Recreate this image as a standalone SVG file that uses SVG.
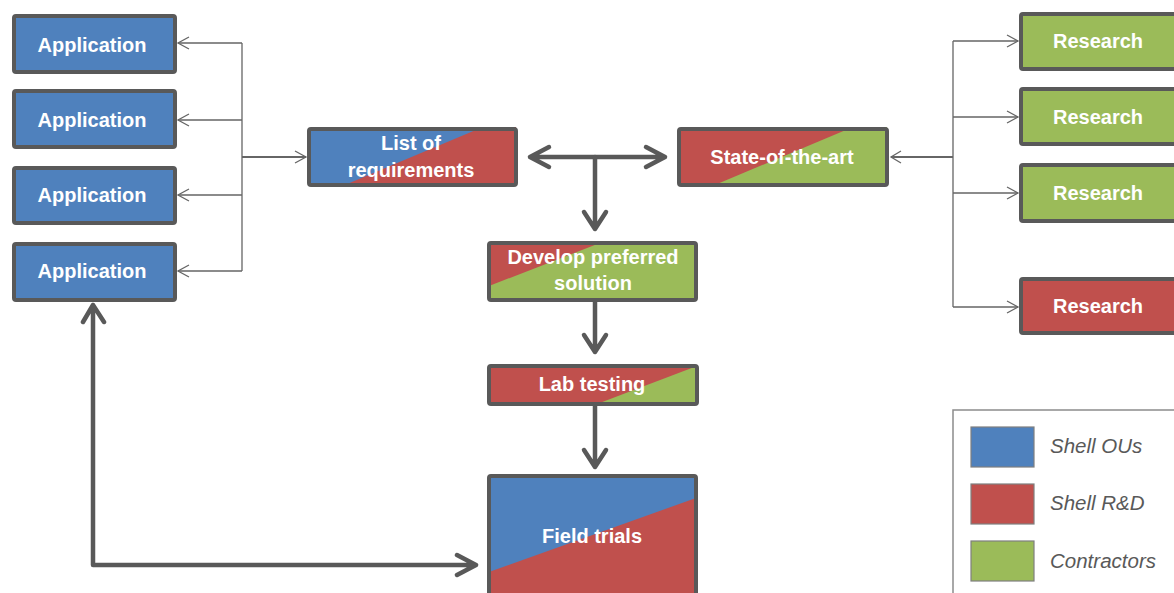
<svg xmlns="http://www.w3.org/2000/svg" width="1174" height="593" viewBox="0 0 1174 593">
<style>
.box{fill:none;stroke:#595959;stroke-width:4;}
.blue{fill:#4F81BD;}
.red{fill:#C0504D;}
.green{fill:#9BBB59;}
.lbl{font-family:"Liberation Sans",Arial,sans-serif;font-weight:bold;font-size:20px;fill:#FFFFFF;text-anchor:middle;}
.thin{fill:none;stroke:#666666;stroke-width:1.3;}
.trunk{fill:none;stroke:#666666;stroke-width:1.8;}
.thick{fill:none;stroke:#595959;stroke-width:4.5;stroke-linecap:round;stroke-linejoin:round;}
.leg{font-family:"Liberation Sans",Arial,sans-serif;font-style:italic;font-size:20.5px;fill:#595959;}
.sw{stroke:#7F7F7F;stroke-width:1.2;}
</style>
<rect width="1174" height="593" fill="#FFFFFF"/>

<g id="connectors">
  <!-- application bracket -->
  <path class="thin" d="M242,43 V271 M242,43 H178 M242,120 H178 M242,195 H178 M242,271 H178"/>
  <path class="thin" d="M189,37 L178,43 L189,49 M189,114 L178,120 L189,126 M189,189 L178,195 L189,201 M189,265 L178,271 L189,277"/>
  <path class="trunk" d="M242,157 H306"/>
  <path class="thin" d="M295,151 L306,157 L295,163"/>
  <!-- research bracket -->
  <path class="thin" d="M953,41 V307 M953,41 H1018 M953,117 H1018 M953,193 H1018 M953,307 H1018"/>
  <path class="thin" d="M1007,35 L1018,41 L1007,47 M1007,111 L1018,117 L1007,123 M1007,187 L1018,193 L1007,199 M1007,301 L1018,307 L1007,313"/>
  <path class="trunk" d="M953,157 H891"/>
  <path class="thin" d="M901,151 L891,157 L901,163"/>
  <!-- double arrow & down -->
  <path class="thick" d="M530,157 H665 M549,147 L530,157 L549,167 M646,147 L665,157 L646,167"/>
  <path class="thick" d="M595,157 V229 M584,212 L595,229 L606,212"/>
  <path class="thick" d="M595,302 V352 M584,335 L595,352 L606,335"/>
  <path class="thick" d="M595,406 V467 M584,450 L595,467 L606,450"/>
  <!-- feedback loop -->
  <path class="thick" d="M93,305 V565 H476 M83,322 L93,305 L104,322 M457,555 L476,565 L457,575"/>
</g>

<g id="app1"><rect class="blue" x="14" y="16" width="161" height="56"/><rect class="box" x="14" y="16" width="161" height="56" rx="2"/><text class="lbl" x="92" y="52">Application</text></g>
<g id="app2"><rect class="blue" x="14" y="91" width="161" height="56"/><rect class="box" x="14" y="91" width="161" height="56" rx="2"/><text class="lbl" x="92" y="127">Application</text></g>
<g id="app3"><rect class="blue" x="14" y="168" width="161" height="55"/><rect class="box" x="14" y="168" width="161" height="55" rx="2"/><text class="lbl" x="92" y="202">Application</text></g>
<g id="app4"><rect class="blue" x="14" y="244" width="161" height="56"/><rect class="box" x="14" y="244" width="161" height="56" rx="2"/><text class="lbl" x="92" y="278">Application</text></g>

<g id="requirements">
  <rect class="blue" x="309" y="129" width="207" height="56"/>
  <polygon class="red" points="340,187 483,127 516,127 516,185 340,185"/>
  <rect class="box" x="309" y="129" width="207" height="56" rx="2"/>
  <text class="lbl" x="411" y="150">List of</text>
  <text class="lbl" x="411" y="177">requirements</text>
</g>

<g id="stateart">
  <rect class="red" x="679" y="129" width="208" height="56"/>
  <polygon class="green" points="710,187 853,127 887,127 887,185 710,185"/>
  <rect class="box" x="679" y="129" width="208" height="56" rx="2"/>
  <text class="lbl" x="782" y="164">State-of-the-art</text>
</g>

<g id="develop">
  <rect class="green" x="489" y="243" width="207" height="57"/>
  <polygon class="red" points="489,243 600,243 489,286"/>
  <rect class="box" x="489" y="243" width="207" height="57" rx="2"/>
  <text class="lbl" x="593" y="264">Develop preferred</text>
  <text class="lbl" x="593" y="290">solution</text>
</g>

<g id="lab">
  <rect class="red" x="489" y="366" width="208" height="38"/>
  <polygon class="green" points="597,404 697,366 697,404"/>
  <rect class="box" x="489" y="366" width="208" height="38" rx="2"/>
  <text class="lbl" x="592" y="391">Lab testing</text>
</g>

<g id="field">
  <rect class="blue" x="489" y="476" width="207" height="140"/>
  <polygon class="red" points="489,572 696,498 696,616 489,616"/>
  <rect class="box" x="489" y="476" width="207" height="140" rx="2"/>
  <text class="lbl" x="592" y="543">Field trials</text>
</g>

<g id="res1"><rect class="green" x="1021" y="14" width="156" height="55"/><rect class="box" x="1021" y="14" width="156" height="55" rx="2"/><text class="lbl" x="1098" y="48">Research</text></g>
<g id="res2"><rect class="green" x="1021" y="89" width="156" height="55"/><rect class="box" x="1021" y="89" width="156" height="55" rx="2"/><text class="lbl" x="1098" y="124">Research</text></g>
<g id="res3"><rect class="green" x="1021" y="165" width="156" height="56"/><rect class="box" x="1021" y="165" width="156" height="56" rx="2"/><text class="lbl" x="1098" y="200">Research</text></g>
<g id="res4"><rect class="red" x="1021" y="279" width="156" height="54"/><rect class="box" x="1021" y="279" width="156" height="54" rx="2"/><text class="lbl" x="1098" y="313">Research</text></g>

<g id="legend">
  <rect x="953" y="410" width="300" height="300" fill="none" stroke="#8C8C8C" stroke-width="1.5"/>
  <rect class="blue sw" x="971" y="427" width="63" height="40"/>
  <rect class="red sw" x="971" y="484" width="63" height="40"/>
  <rect class="green sw" x="971" y="541" width="63" height="40"/>
  <text class="leg" x="1050" y="453">Shell OUs</text>
  <text class="leg" x="1050" y="510">Shell R&amp;D</text>
  <text class="leg" x="1050" y="568">Contractors</text>
</g>
</svg>
